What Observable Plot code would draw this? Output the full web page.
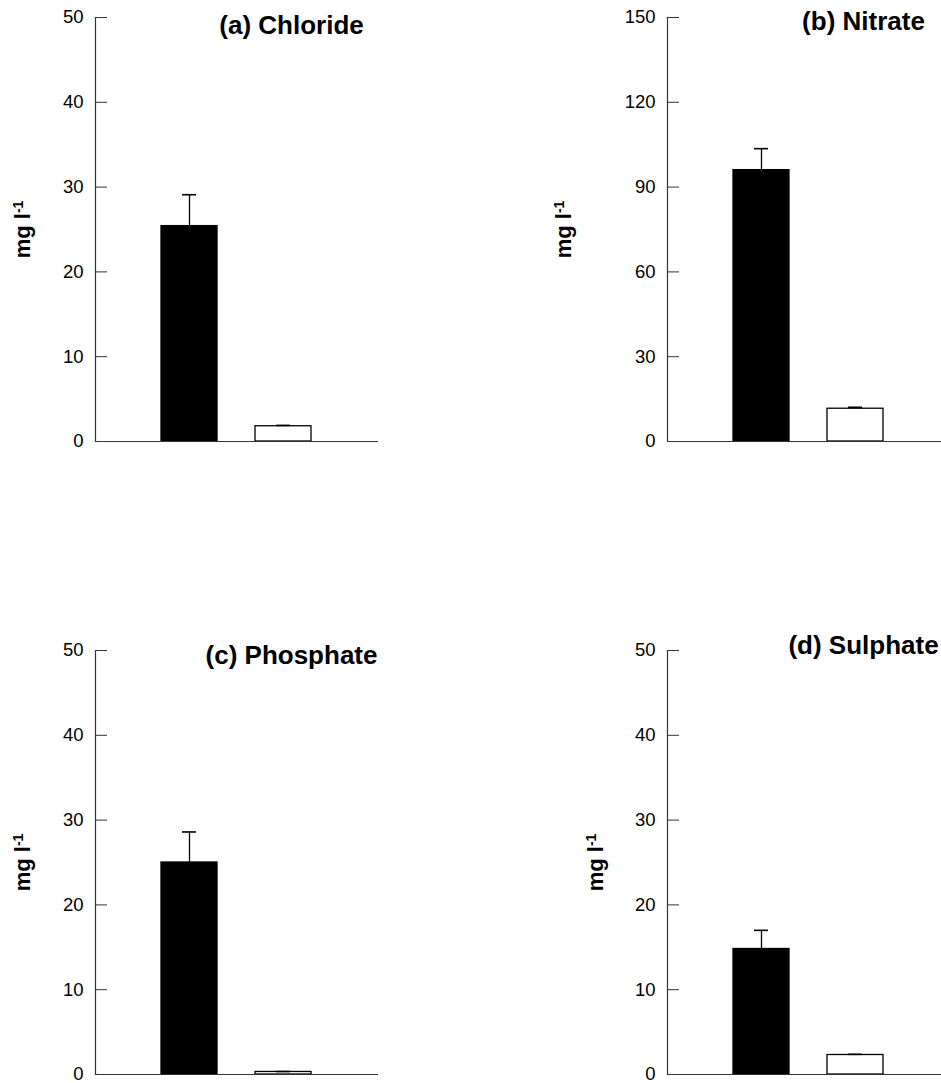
<!DOCTYPE html>
<html>
<head>
<meta charset="utf-8">
<script src="https://cdn.jsdelivr.net/npm/d3@7"></script>
<script src="https://cdn.jsdelivr.net/npm/@observablehq/plot@0.6"></script>
<style>
  html, body { margin: 0; padding: 0; background: #fff; overflow: hidden; }
  #fig { position: relative; width: 941px; height: 1083px; overflow: hidden; background: #fff; }
  .panel { position: absolute; width: 388px; height: 451px; }
  .panel svg { max-width: none !important; }
</style>
</head>
<body>
<div id="fig"></div>
<script>
// Two sampling groups per ion: contaminated site (black) and reference (white)
const groups = ["Site", "Reference"];

// Mean concentrations (mg l-1) and standard errors, per ion
const chlorideMean = [25.4, 1.8];
const chlorideErr = [3.7, 0.1];
const nitrateMean = [96.0, 11.6];
const nitrateErr = [7.6, 0.5];
const phosphateMean = [25.0, 0.3];
const phosphateErr = [3.6, 0.05];
const sulphateMean = [14.8, 2.3];
const sulphateErr = [2.2, 0.08];

// Panel titles and y-axis tick values
const titles = ["(a) Chloride", "(b) Nitrate", "(c) Phosphate", "(d) Sulphate"];
const ticks50 = [0, 10, 20, 30, 40, 50];
const ticks150 = [0, 30, 60, 90, 120, 150];
const unitLabel = "mg l";
const unitExponent = "-1";

const FONT = '"Liberation Sans", Arial, Helvetica, sans-serif';
const AXIS = "#333";

function panel({title, mean, err, ticks, left, top, titleDy, labelDx}) {
  const rows = groups.map((g, i) => ({group: g, value: mean[i], err: err[i]}));
  const svg = Plot.plot({
    width: 388,
    height: 451,
    marginLeft: 95,
    marginRight: 10,
    marginTop: 17,
    marginBottom: 10,
    style: {fontFamily: FONT, fontSize: "18px", color: "#000", background: "transparent", overflow: "visible", maxWidth: "none"},
    x: {type: "band", domain: groups, paddingInner: 0.4, paddingOuter: 0.7, axis: null},
    y: {domain: [ticks[0], ticks[ticks.length - 1]], axis: null},
    color: {domain: groups, range: ["#000", "#fff"]},
    marks: [
      Plot.barY(rows, {x: "group", y: "value", fill: "group", stroke: "#000", strokeWidth: 1.3}),
      Plot.ruleX(rows, {x: "group", y1: "value", y2: d => d.value + d.err, stroke: "#000", strokeWidth: 1.3}),
      Plot.tickY(rows, {x: "group", y: d => d.value + d.err, stroke: "#000", strokeWidth: 1.6, insetLeft: 21, insetRight: 21}),
      Plot.ruleY([0], {stroke: AXIS, strokeWidth: 1.2}),
      Plot.frame({anchor: "left", stroke: AXIS, strokeWidth: 1.2}),
      Plot.axisY(ticks, {tickSize: -12, tickPadding: 24, stroke: AXIS, fontSize: 18.5, label: null}),
      Plot.text([title], {frameAnchor: "top-left", dx: 196, dy: titleDy, textAnchor: "middle", lineAnchor: "middle", fontWeight: "bold", fontSize: 26}),
      Plot.text([unitLabel], {frameAnchor: "left", dx: labelDx, rotate: -90, textAnchor: "middle", lineAnchor: "middle", fontWeight: "bold", fontSize: 22})
    ]
  });
  // superscript exponent on the unit label
  d3.select(svg).selectAll("text")
    .filter(function () { return this.textContent === unitLabel; })
    .append("tspan")
    .attr("dy", "-0.45em")
    .attr("font-size", "14px")
    .text(unitExponent);
  const div = document.createElement("div");
  div.className = "panel";
  div.style.left = left + "px";
  div.style.top = top + "px";
  div.appendChild(svg);
  document.getElementById("fig").appendChild(div);
}

panel({title: titles[0], mean: chlorideMean, err: chlorideErr, ticks: ticks50, left: 0, top: 0, titleDy: 8, labelDx: -73});
panel({title: titles[1], mean: nitrateMean, err: nitrateErr, ticks: ticks150, left: 571.7, top: 0, titleDy: 4, labelDx: -104});
panel({title: titles[2], mean: phosphateMean, err: phosphateErr, ticks: ticks50, left: 0, top: 633, titleDy: 5, labelDx: -73});
panel({title: titles[3], mean: sulphateMean, err: sulphateErr, ticks: ticks50, left: 571.7, top: 633, titleDy: -5, labelDx: -72});
</script>
</body>
</html>
